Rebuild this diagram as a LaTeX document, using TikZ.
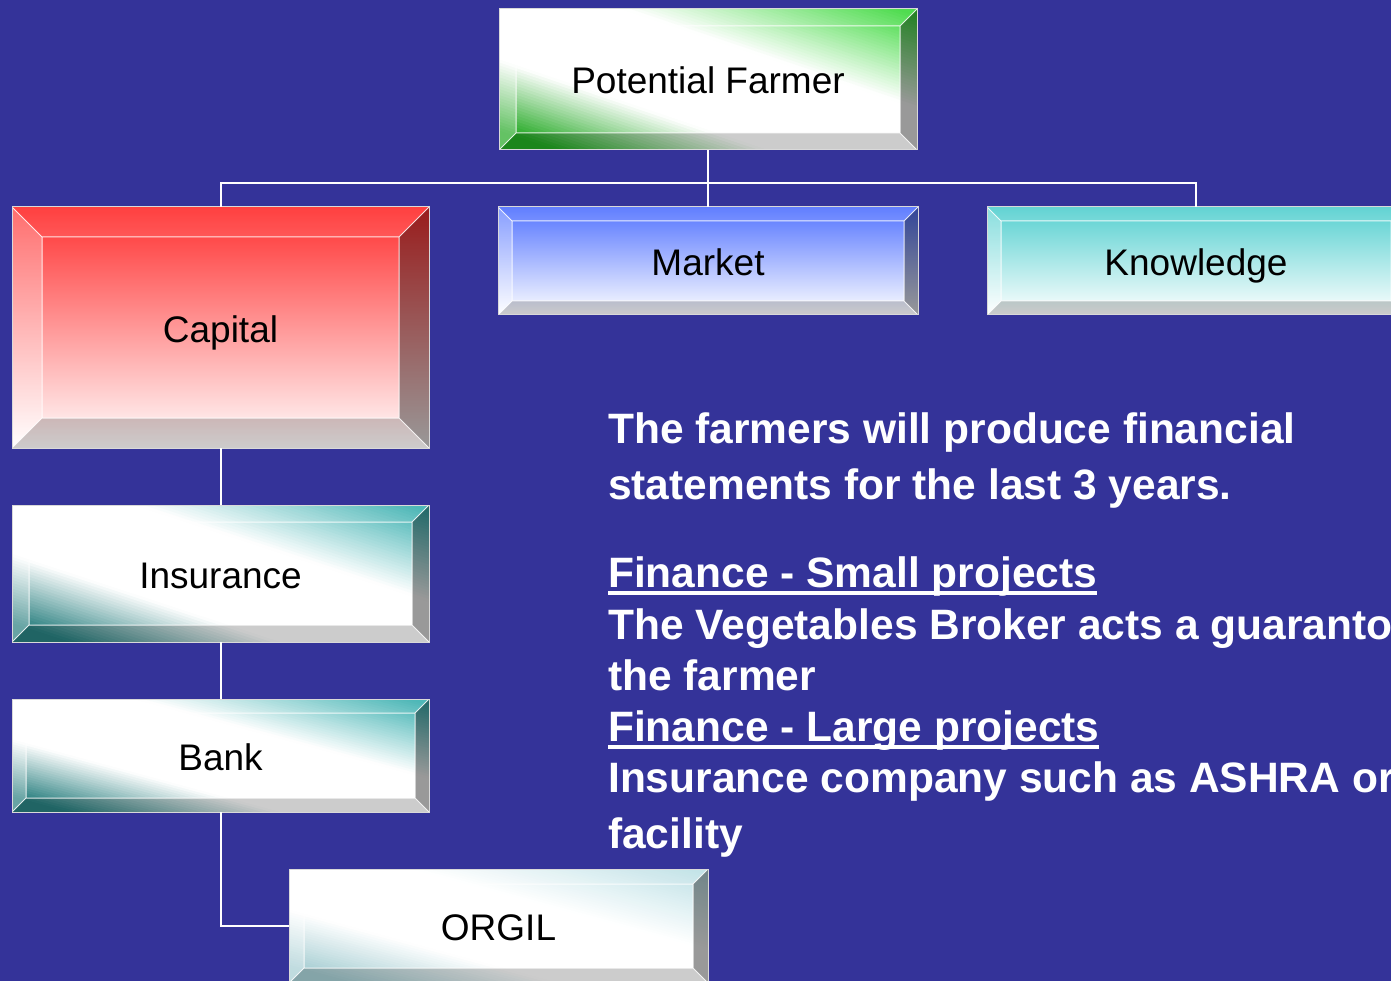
\documentclass[tikz,border=0pt]{standalone}
\usepackage{fontspec}
\setmainfont{Liberation Sans}
\definecolor{bgblue}{RGB}{52,51,153}
\definecolor{pfBL}{RGB}{34,168,34}
\definecolor{pfTR}{RGB}{66,218,66}
\definecolor{tlBL}{RGB}{40,126,126}
\definecolor{tlTR}{RGB}{64,178,178}
\definecolor{orBL}{RGB}{165,205,210}
\definecolor{orTR}{RGB}{192,226,231}
\definecolor{capTop}{RGB}{255,48,48}
\definecolor{mkTop}{RGB}{84,116,255}
\definecolor{knTop}{RGB}{86,208,208}
\newcommand\myul[1]{\setbox0=\hbox{#1}\rlap{\rule[-8pt]{\wd0}{4pt}}\box0}
\newcommand\drawbevels[1]{%
    \path (path picture bounding box.north west) coordinate (pnw)
          (path picture bounding box.north east) coordinate (pne)
          (path picture bounding box.south west) coordinate (psw)
          (path picture bounding box.south east) coordinate (pse);
    \path ([shift={(#1pt,-#1pt)}]pnw) coordinate (inw)
          ([shift={(-#1pt,-#1pt)}]pne) coordinate (ine)
          ([shift={(#1pt,#1pt)}]psw) coordinate (isw)
          ([shift={(-#1pt,#1pt)}]pse) coordinate (ise);
    \fill[white, opacity=0.08] (pnw) -- (pne) -- (ine) -- (inw) -- cycle;
    \fill[white, opacity=0.3] (pnw) -- (psw) -- (isw) -- (inw) -- cycle;
    \fill[black, opacity=0.4] (pne) -- (pse) -- (ise) -- (ine) -- cycle;
    \fill[black, opacity=0.2] (psw) -- (pse) -- (ise) -- (isw) -- cycle;
    \draw[white, line width=1pt, opacity=0.85] (inw) rectangle (ise)
      (pnw) -- (inw) (pne) -- (ine) (psw) -- (isw) (pse) -- (ise);}
\newcommand\diagfill[4]{%
  \coordinate (dc) at (path picture bounding box.center);
  \foreach \i in {0,...,99}{%
    \pgfmathsetmacro\va{-1.05+\i*2.1/100}%
    \pgfmathsetmacro\vb{\va+2.1/100*1.4}%
    \pgfmathsetmacro\vm{\va+2.1/200}%
    \pgfmathsetmacro\tBL{100*min(1,max(0,(-\vm-0.36)/0.5))}%
    \pgfmathsetmacro\tTR{100*min(1,max(0,(\vm-0.3)/0.65))}%
    \pgfmathtruncatemacro\dneg{\vm<0}%
    \ifnum\dneg=1 \colorlet{dcol}{#1!\tBL!white}\else\colorlet{dcol}{#2!\tTR!white}\fi
    \pgfmathsetmacro\xa{#3*(\va-1.2)}\pgfmathsetmacro\ya{-#4*(\va+1.2)}%
    \pgfmathsetmacro\xb{#3*(\va+1.2)}\pgfmathsetmacro\yb{-#4*(\va-1.2)}%
    \pgfmathsetmacro\xc{#3*(\vb+1.2)}\pgfmathsetmacro\yc{-#4*(\vb-1.2)}%
    \pgfmathsetmacro\xd{#3*(\vb-1.2)}\pgfmathsetmacro\yd{-#4*(\vb+1.2)}%
    \fill[dcol] ([shift={(\xa,\ya)}]dc) -- ([shift={(\xb,\yb)}]dc) -- ([shift={(\xc,\yc)}]dc) -- ([shift={(\xd,\yd)}]dc) -- cycle;
  }}
\begin{document}
\begin{tikzpicture}[x=1pt,y=-1pt,
  box/.style={inner sep=0pt, outer sep=0pt, draw=white!85!black, line width=1pt,
    font=\fontsize{37}{44}\selectfont, text=black, text height=29pt, text depth=0pt},
  bevV/.style 2 args={top color=#1, bottom color=white, path picture={\drawbevels{#2}}},
  bevD/.style n args={5}{path picture={\diagfill{#1}{#2}{#4}{#5}\drawbevels{#3}}},
  conn/.style={draw=white, line width=2pt},
  txt/.style={anchor=base west, inner sep=0pt, text=white,
    font=\fontsize{42.5}{51}\selectfont\bfseries},
]
\fill[bgblue] (0,0) rectangle (1391,981);
\useasboundingbox (0,0) rectangle (1391,981);
\clip (0,0) rectangle (1391,981);

% boxes
\node[box, bevD={pfBL}{pfTR}{17}{209}{70.5}, minimum width=418pt, minimum height=141pt] (pf) at (708,79.5) {Potential Farmer};
\node[box, bevV={capTop}{30}, minimum width=417pt, minimum height=241pt] (cap) at (220.5,327.5) {Capital};
\node[box, bevV={mkTop}{14}, minimum width=420pt, minimum height=108pt] (mk) at (708,261) {Market};
\node[box, bevV={knTop}{14}, minimum width=418pt, minimum height=108pt] (kn) at (1196,261) {Knowledge};
\node[box, bevD={tlBL}{tlTR}{17}{208.5}{68.5}, minimum width=417pt, minimum height=137pt] (ins) at (220.5,573.5) {Insurance};
\node[box, bevD={tlBL}{tlTR}{14}{208.5}{56.5}, minimum width=417pt, minimum height=113pt] (bank) at (220.5,755.5) {Bank};
\node[box, bevD={orBL}{orTR}{15}{209.5}{57}, minimum width=419pt, minimum height=114pt] (org) at (498.5,926) {ORGIL};

% connectors
\coordinate (j) at (708,183);
\draw[conn] (pf.south) -- (j);
\draw[conn] (cap.north) |- (j) -| (kn.north);
\draw[conn] (j) -- (mk.north);
\draw[conn] (cap.south) -- (ins.north);
\draw[conn] (ins.south) -- (bank.north);
\draw[conn] (bank.south) |- (org.west);

% text
\node[txt] (t1) at (608,443) {The farmers will produce financial};
\node[txt] (t2) at (608,499) {statements for the last 3 years.};
\node[txt] (t3) at (608,587) {\myul{Finance - Small projects}};
\node[txt] (t4) at (608,639) {The Vegetables Broker acts a guaranto};
\node[txt] (t5) at (608,690) {the farmer};
\node[txt] (t6) at (608,741) {\myul{Finance - Large projects}};
\node[txt] (t7) at (608,792) {Insurance company such as ASHRA or};
\node[txt] (t8) at (608,848) {facility};
\end{tikzpicture}
\end{document}
